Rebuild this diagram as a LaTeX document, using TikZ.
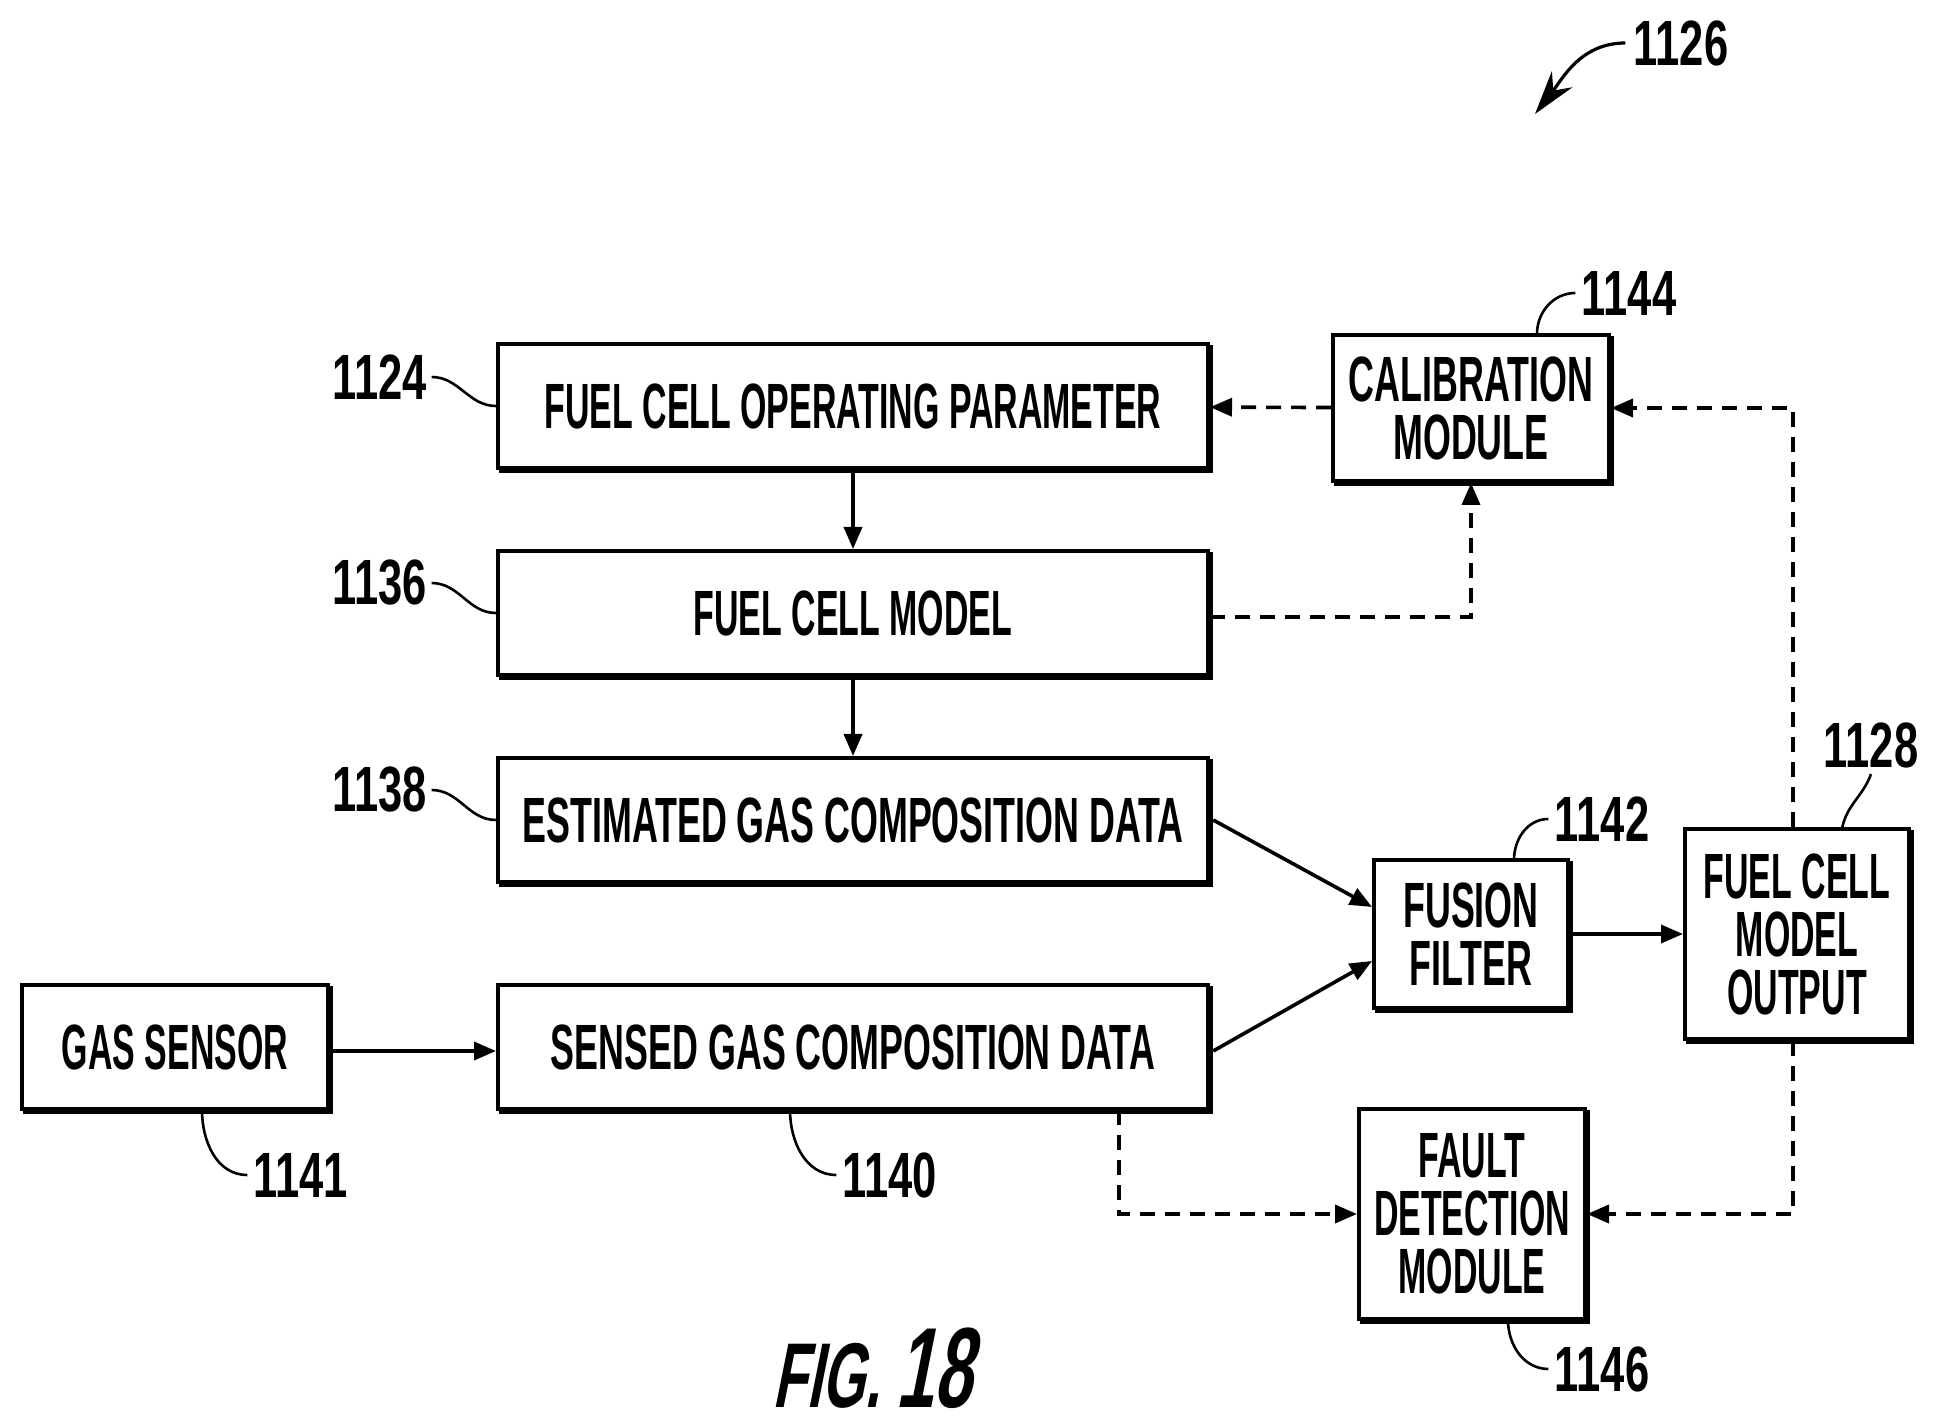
\documentclass[tikz,border=0pt]{standalone}
\usepackage{fontspec}
\setmainfont[FakeStretch=0.53]{Liberation Sans}
\newfontfamily\widefont[FakeStretch=0.56]{Liberation Sans}
\newfontfamily\numfont[FakeStretch=0.68]{Liberation Sans}
\newfontfamily\figfont[FakeStretch=0.6,FakeSlant=0.2]{Liberation Sans}
\usetikzlibrary{arrows.meta}
\usetikzlibrary{shadows}
\tikzset{
	blockbox/.style={draw,fill=white,line width=2pt,inner sep=0pt,align=center,font=\fontsize{32}{29}\bfseries\selectfont,
		copy shadow={shadow xshift=1.6pt,shadow yshift=-1.6pt,fill=black,draw=black,line width=2pt}},
	wideblock/.style={blockbox,font=\widefont\fontsize{32}{29}\bfseries\selectfont},
	tagnum/.style={inner sep=0pt,font=\numfont\fontsize{32}{32}\bfseries\selectfont},
	leader/.style={line width=1.3pt},
	flow/.style={line width=1.8pt,-{Triangle[length=11pt,width=9pt]}},
	dashflow/.style={flow,dash pattern=on 7.5pt off 5pt}
}

\begin{document}
\begin{tikzpicture}[x=0.5pt,y=-0.5pt]
	\useasboundingbox (0,0) rectangle (1935,1428);
	\node [blockbox,minimum width=355pt,minimum height=62pt] (oper) at (853,406) {FUEL CELL OPERATING PARAMETER};
	\node [blockbox,minimum width=355pt,minimum height=62pt] (model) at (853,613) {FUEL CELL MODEL};
	\node [wideblock,minimum width=355pt,minimum height=62pt] (est) at (853,820) {ESTIMATED GAS COMPOSITION DATA};
	\node [wideblock,minimum width=355pt,minimum height=62pt] (sensed) at (853,1047) {SENSED GAS COMPOSITION DATA};
	\node [blockbox,minimum width=153pt,minimum height=62pt] (gas) at (175,1047) {GAS SENSOR};
	\node [wideblock,minimum width=138pt,minimum height=73pt] (calib) at (1471,408) {CALIBRATION\\MODULE};
	\node [wideblock,minimum width=97pt,minimum height=74pt] (fusion) at (1471,934) {FUSION\\FILTER};
	\node [blockbox,minimum width=112pt,minimum height=105pt] (out) at (1797,934) {FUEL CELL\\MODEL\\OUTPUT};
	\node [blockbox,minimum width=113pt,minimum height=105pt] (fault) at (1472,1214) {FAULT\\DETECTION\\MODULE};

	\node [tagnum] (t1126) at (1681,43) {1126};
	\node [tagnum] (t1144) at (1629,293) {1144};
	\node [tagnum] (t1124) at (380,377) {1124};
	\node [tagnum] (t1136) at (380,583) {1136};
	\node [tagnum] (t1138) at (380,790) {1138};
	\node [tagnum] (t1142) at (1602,819) {1142};
	\node [tagnum] (t1128) at (1871,745) {1128};
	\node [tagnum] (t1141) at (301,1175) {1141};
	\node [tagnum] (t1140) at (890,1175) {1140};
	\node [tagnum] (t1146) at (1602,1369) {1146};
	\node [inner sep=0pt,font=\figfont\fontsize{46}{46}\bfseries\selectfont] (figno) at (872,1368) {FIG.\,{\fontsize{57}{57}\selectfont 18}};

	\coordinate (c1144) at (1537,334);
	\coordinate (c1142) at (1514,860);
	\coordinate (c1128) at (1842,829);
	\coordinate (c1141) at (202,1110);
	\coordinate (c1140) at (790,1110);
	\coordinate (c1146) at (1508,1320);
	\coordinate (tap) at (1119,1110);
	\coordinate (point) at (1535,114);

	\draw [leader] (t1124.east) ++(4,0) to [out=0,in=180] (oper.west);
	\draw [leader] (t1136.east) ++(4,0) to [out=0,in=180] (model.west);
	\draw [leader] (t1138.east) ++(4,0) to [out=0,in=180] (est.west);
	\draw [leader] (c1144) to [out=90,in=180] ([xshift=-3pt]t1144.west);
	\draw [leader] (c1142) to [out=90,in=180] ([xshift=-3pt]t1142.west);
	\draw [leader] (c1128) to [out=80,in=-110] ([yshift=-3pt]t1128.south);
	\draw [leader] (c1141) to [out=-90,in=180] ([xshift=-3pt]t1141.west);
	\draw [leader] (c1140) to [out=-90,in=180] ([xshift=-3pt]t1140.west);
	\draw [leader] (c1146) to [out=-90,in=180] ([xshift=-3pt]t1146.west);
	\draw [line width=1.6pt,-{Stealth[length=22pt,width=13pt]}] ([xshift=-4pt]t1126.west) to [out=180,in=52] (point);

	\draw [flow] (oper) -- (model);
	\draw [flow] (model) -- (est);
	\draw [flow] ([yshift=-2pt]gas.east) -- ([yshift=-2pt]sensed.west);
	\draw [flow] ([xshift=1.6pt]est.east) -- ([yshift=13.5pt]fusion.west);
	\draw [flow] ([xshift=1.6pt,yshift=-2pt]sensed.east) -- ([yshift=-13.5pt]fusion.west);
	\draw [flow] (fusion) -- (out);

	\draw [dashflow] (calib) -- (oper);
	\draw [dashflow] ([yshift=-2pt]model.east) -| (calib);
	\draw [dashflow] ([xshift=-2pt]out.north) |- (calib);
	\draw [dashflow] ([xshift=-2pt]out.south) |- (fault);
	\draw [dashflow] (tap) |- (fault);
\end{tikzpicture}
\end{document}
